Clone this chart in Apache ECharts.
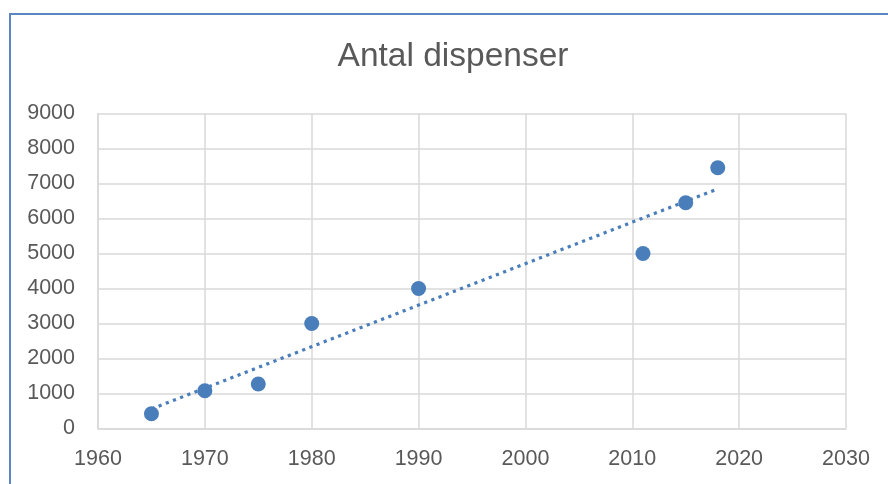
<!DOCTYPE html>
<html>
<head>
<meta charset="utf-8">
<script src="https://cdn.jsdelivr.net/npm/echarts@6/dist/echarts.min.js"></script>
<style>
html,body{margin:0;padding:0;background:#fff;}
#c{width:888px;height:484px;}
</style>
</head>
<body>
<div id="c"></div>
<script>
var titleText = 'Antal dispenser';
var years = [1965, 1970, 1975, 1980, 1990, 2011, 2015, 2018];
var counts = [420, 1080, 1270, 3000, 4000, 5000, 6450, 7450];
var xTicks = [1960, 1970, 1980, 1990, 2000, 2010, 2020, 2030];
var yTicks = [0, 1000, 2000, 3000, 4000, 5000, 6000, 7000, 8000, 9000];

// Linear trendline (least squares) from the data, as in the original spreadsheet chart
function trend(xs, ys) {
  var n = xs.length, mx = 0, my = 0;
  for (var i = 0; i < n; i++) { mx += xs[i]; my += ys[i]; }
  mx /= n; my /= n;
  var sxy = 0, sxx = 0;
  for (var j = 0; j < n; j++) { sxy += (xs[j]-mx)*(ys[j]-my); sxx += (xs[j]-mx)*(xs[j]-mx); }
  var b = sxy / sxx, a = my - b * mx;
  var x0 = Math.min.apply(null, xs), x1 = Math.max.apply(null, xs);
  return [[x0, a + b * x0], [x1, a + b * x1]];
}

var chart = echarts.init(document.getElementById('c'), null, {renderer: 'canvas'});
var font = '"Liberation Sans", Arial, sans-serif';
var grid = '#d9d9d9';
chart.setOption({
  animation: false,
  backgroundColor: '#fff',
  grid: {left: 98, right: 42, top: 113.5, bottom: 55.5},
  graphic: [
    {type: 'polyline', shape: {points: [[10, 484], [10, 14], [888, 14]]},
     style: {stroke: '#5a87c4', lineWidth: 2, fill: null}, silent: true},
    {type: 'text', x: 453, y: 57,
     style: {text: titleText, fill: '#595959', font: '33.5px ' + font, textAlign: 'center', textVerticalAlign: 'middle'}}
  ],
  xAxis: {
    type: 'value', min: xTicks[0], max: xTicks[xTicks.length-1], interval: 10,
    axisLine: {show: true, lineStyle: {color: grid, width: 1.5}},
    axisTick: {show: false},
    splitLine: {show: true, lineStyle: {color: grid, width: 1.5}},
    axisLabel: {color: '#595959', fontSize: 21.5, fontFamily: font, margin: 20,
      formatter: function(v){ return String(v); }}
  },
  yAxis: {
    type: 'value', min: yTicks[0], max: yTicks[yTicks.length-1], interval: 1000,
    axisLine: {show: true, lineStyle: {color: grid, width: 1.5}},
    axisTick: {show: false},
    splitLine: {show: true, lineStyle: {color: grid, width: 1.5}},
    axisLabel: {color: '#595959', fontSize: 21.5, fontFamily: font, margin: 23,
      formatter: function(v){ return String(v); }}
  },
  series: [
    {type: 'line', data: trend(years, counts), symbol: 'none', silent: true,
     lineStyle: {color: '#4a7ebb', width: 3.2, type: [3.2, 4.5]}, z: 2},
    {type: 'scatter', data: years.map(function(y, i){ return [y, counts[i]]; }),
     symbolSize: 15, itemStyle: {color: '#4a7ebb', opacity: 1}, z: 3}
  ]
});
</script>
</body>
</html>
